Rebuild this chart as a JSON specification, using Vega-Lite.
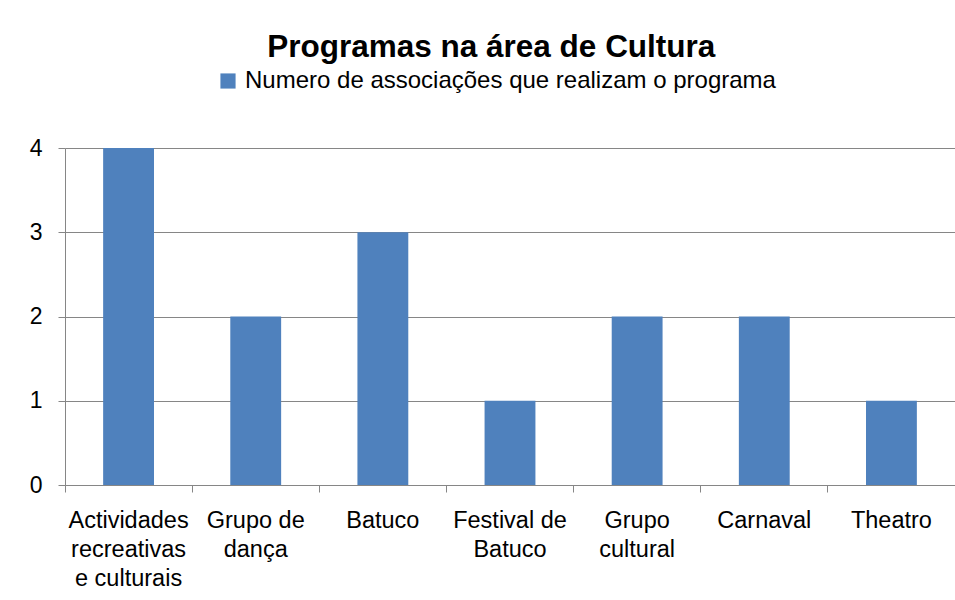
{
  "$schema": "https://vega.github.io/schema/vega-lite/v6.json",
  "width": 890,
  "height": 337,
  "autosize": {"type": "none"},
  "padding": {"left": 65, "top": 148, "right": 0, "bottom": 115},
  "background": "white",
  "title": {
    "text": "Programas na área de Cultura",
    "font": "Liberation Sans",
    "fontSize": 31.5,
    "fontWeight": "bold",
    "color": "#000000",
    "anchor": "start",
    "dx": 238,
    "offset": 6
  },
  "data": {
    "values": [
      {"programa": "Actividades recreativas e culturais", "valor": 4, "serie": "Numero de associações que realizam o programa"},
      {"programa": "Grupo de dança", "valor": 2, "serie": "Numero de associações que realizam o programa"},
      {"programa": "Batuco", "valor": 3, "serie": "Numero de associações que realizam o programa"},
      {"programa": "Festival de Batuco", "valor": 1, "serie": "Numero de associações que realizam o programa"},
      {"programa": "Grupo cultural", "valor": 2, "serie": "Numero de associações que realizam o programa"},
      {"programa": "Carnaval", "valor": 2, "serie": "Numero de associações que realizam o programa"},
      {"programa": "Theatro", "valor": 1, "serie": "Numero de associações que realizam o programa"}
    ]
  },
  "mark": {"type": "bar", "width": {"band": 0.4}},
  "encoding": {
    "x": {
      "field": "programa",
      "type": "nominal",
      "sort": null,
      "scale": {"paddingInner": 0, "paddingOuter": 0},
      "axis": {
        "title": null,
        "labelAngle": 0,
        "labelFont": "Liberation Sans",
        "labelFontSize": 23.5,
        "labelColor": "#000000",
        "labelLineHeight": 29,
        "labelPadding": 16,
        "labelBaseline": "top",
        "labelLimit": 0,
        "bandPosition": 0,
        "tickSize": 7,
        "tickColor": "#868686",
        "domainColor": "#868686",
        "grid": false,
        "labelExpr": "datum.value == 'Actividades recreativas e culturais' ? ['Actividades', 'recreativas', 'e culturais'] : datum.value == 'Grupo de dança' ? ['Grupo de', 'dança'] : datum.value == 'Festival de Batuco' ? ['Festival de', 'Batuco'] : datum.value == 'Grupo cultural' ? ['Grupo', 'cultural'] : datum.value"
      }
    },
    "y": {
      "field": "valor",
      "type": "quantitative",
      "scale": {"domain": [0, 4]},
      "axis": {
        "title": null,
        "values": [0, 1, 2, 3, 4],
        "format": "d",
        "labelFont": "Liberation Sans",
        "labelFontSize": 23,
        "labelColor": "#000000",
        "labelPadding": 16,
        "tickSize": 7,
        "tickColor": "#868686",
        "domainColor": "#868686",
        "gridColor": "#868686",
        "gridOpacity": 1
      }
    },
    "color": {
      "field": "serie",
      "type": "nominal",
      "scale": {"range": ["#4F81BD"]},
      "legend": {
        "title": null,
        "orient": "none",
        "legendX": 151,
        "legendY": -79,
        "symbolType": "square",
        "symbolSize": 230,
        "labelFont": "Liberation Sans",
        "labelFontSize": 24,
        "labelLimit": 0,
        "labelColor": "#000000",
        "labelOffset": 5
      }
    }
  },
  "config": {"view": {"stroke": null}}
}
